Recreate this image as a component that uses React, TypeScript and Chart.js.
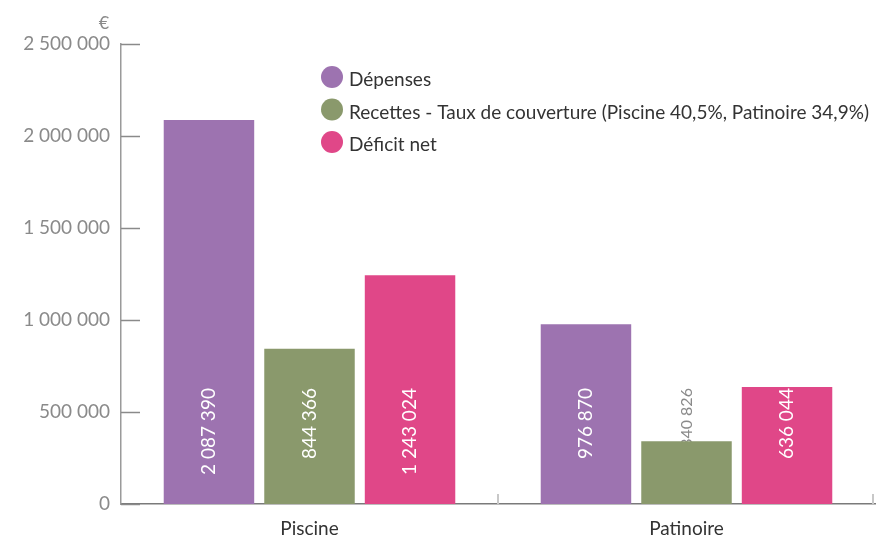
import React, { useEffect, useRef } from "react";
import { Chart, registerables } from "chart.js";

Chart.register(...registerables);

const categories = ["Piscine", "Patinoire"];
const seriesLabels = [
  "Dépenses",
  "Recettes - Taux de couverture (Piscine 40,5%, Patinoire 34,9%)",
  "Déficit net",
];
const depenses = [2087390, 976870];
const recettes = [844366, 340826];
const deficit = [1243024, 636044];
const seriesColors = ["#9d73b0", "#8a996c", "#e04788"];
const yTicks = [0, 500000, 1000000, 1500000, 2000000, 2500000];
const unitLabel = "€";
const labelAnchorValue = 630000;

const FONT = "Lato, 'Noto Sans', sans-serif";

const fmt = (v: number) =>
  Math.round(v)
    .toString()
    .replace(/\B(?=(\d{3})+(?!\d))/g, " ");

function drawValueLabels(chart: any, inside: boolean) {
  const ctx = chart.ctx;
  const y = chart.scales.y;
  const anchorY = y.getPixelForValue(labelAnchorValue);
  ctx.save();
  ctx.font = `${inside ? 19 : 16}px ${FONT}`;
  ctx.textAlign = "right";
  ctx.textBaseline = "middle";
  chart.data.datasets.forEach((ds: any, di: number) => {
    const meta = chart.getDatasetMeta(di);
    meta.data.forEach((bar: any, i: number) => {
      const isInside = bar.y < anchorY;
      if (isInside !== inside) return;
      ctx.fillStyle = inside ? "#ffffff" : "#8a8a8a";
      ctx.save();
      ctx.translate(bar.x, anchorY);
      ctx.rotate(-Math.PI / 2);
      ctx.fillText(fmt(ds.data[i]), 0, 0);
      ctx.restore();
    });
  });
  ctx.restore();
}

const decorPlugin = {
  id: "decor",
  beforeDatasetsDraw(chart: any) {
    drawValueLabels(chart, false);
  },
  afterDatasetsDraw(chart: any) {
    const ctx = chart.ctx;
    const area = chart.chartArea;
    const y = chart.scales.y;
    const x = chart.scales.x;
    ctx.save();
    // y ticks drawn inward
    ctx.strokeStyle = "#8a8a8a";
    ctx.lineWidth = 1.5;
    y.ticks.forEach((t: any) => {
      const py = Math.round(y.getPixelForValue(t.value)) + 0.5;
      ctx.beginPath();
      ctx.moveTo(area.left, py);
      ctx.lineTo(area.left + 19, py);
      ctx.stroke();
    });
    // x category separators drawn inward
    ctx.strokeStyle = "#c8c8c8";
    ctx.lineWidth = 2;
    const n = categories.length;
    for (let i = 1; i <= n; i++) {
      const px = x.left + ((x.right - x.left) * i) / n;
      const xx = i === n ? px - 2 : px;
      ctx.beginPath();
      ctx.moveTo(xx, area.bottom);
      ctx.lineTo(xx, area.bottom - 10);
      ctx.stroke();
    }
    ctx.restore();
    drawValueLabels(chart, true);
    ctx.save();
    // unit label
    ctx.fillStyle = "#8a8a8a";
    ctx.textAlign = "center";
    ctx.textBaseline = "middle";
    ctx.font = `18px ${FONT}`;
    ctx.fillText(unitLabel, area.left - 17, area.top - 21);
    // legend
    const lx = 332;
    let ly = 77;
    ctx.textAlign = "left";
    ctx.font = `19px ${FONT}`;
    chart.data.datasets.forEach((ds: any) => {
      ctx.fillStyle = ds.backgroundColor;
      ctx.beginPath();
      ctx.arc(lx, ly, 11, 0, Math.PI * 2);
      ctx.fill();
      ctx.fillStyle = "#333333";
      ctx.fillText(ds.label, lx + 17, ly + 3);
      ly += 32.5;
    });
    ctx.restore();
  },
};

export default function App() {
  const ref = useRef<HTMLCanvasElement | null>(null);
  useEffect(() => {
    if (!ref.current) return;
    const chart = new Chart(ref.current, {
      type: "bar",
      data: {
        labels: categories,
        datasets: [depenses, recettes, deficit].map((d, i) => ({
          label: seriesLabels[i],
          data: d,
          backgroundColor: seriesColors[i],
          borderWidth: 0,
          categoryPercentage: 0.8,
          barPercentage: 0.9,
        })),
      },
      options: {
        animation: false,
        responsive: false,
        maintainAspectRatio: false,
        layout: { padding: { top: 44, right: 5, left: 0, bottom: 0 } },
        plugins: {
          legend: { display: false },
          tooltip: { enabled: false },
        },
        scales: {
          x: {
            grid: { display: false },
            border: { display: true, color: "#7a7a7a", width: 1.5 },
            ticks: {
              color: "#333333",
              font: { family: FONT, size: 19 },
              padding: 5,
            },
            afterFit: (s: any) => {
              s.height = 34;
            },
          },
          y: {
            min: 0,
            max: 2500000,
            grid: { display: false },
            border: { display: true, color: "#9a9a9a", width: 1.5 },
            afterBuildTicks: (s: any) => {
              s.ticks = yTicks.map((v) => ({ value: v }));
            },
            ticks: {
              color: "#8a8a8a",
              font: { family: FONT, size: 19 },
              padding: 3,
              callback: (v: any) => fmt(Number(v)),
            },
            afterFit: (s: any) => {
              s.width = 121;
            },
          },
        },
      },
      plugins: [decorPlugin],
    });
    return () => chart.destroy();
  }, []);
  return (
    <div style={{ position: "fixed", left: 0, top: 0, width: 880, height: 538, background: "#fff" }}>
      <canvas ref={ref} width={880} height={538} style={{ display: "block" }} />
    </div>
  );
}
